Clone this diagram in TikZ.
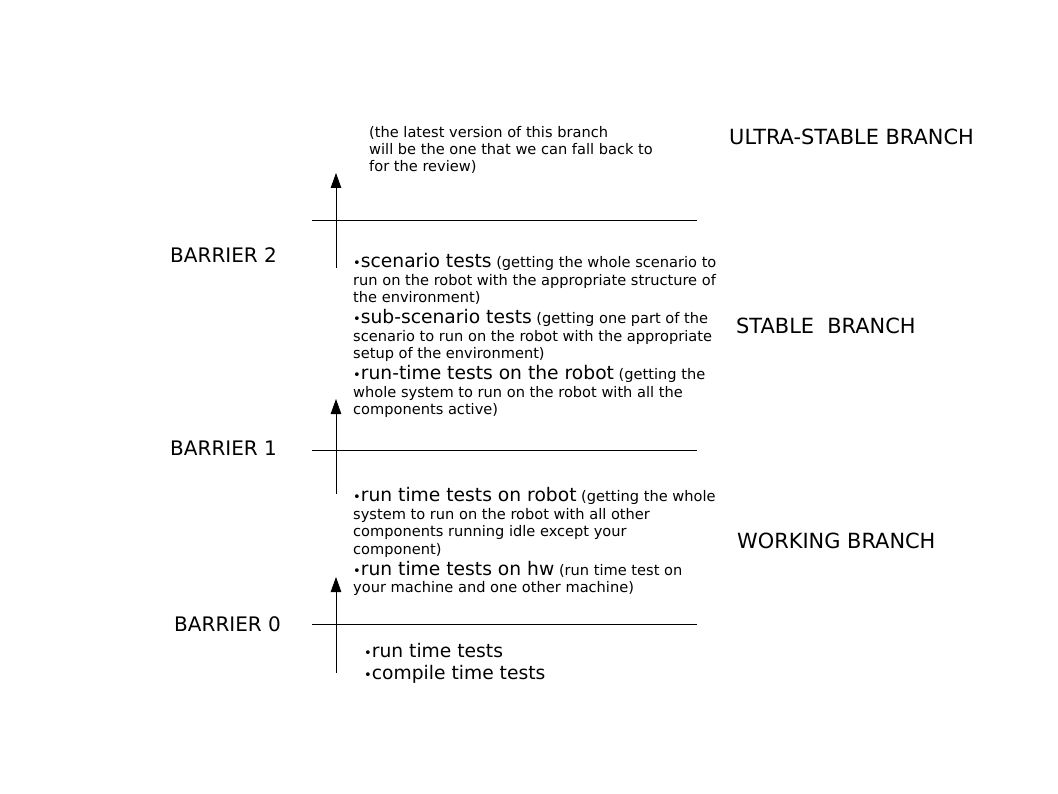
\documentclass[tikz,border=0pt]{standalone}
\usepackage{fontspec}
\setmainfont{DejaVu Sans}
\usetikzlibrary{arrows.meta, positioning}
\tikzset{
    lvl/.style={font=\fontsize{20}{24}\selectfont, anchor=west, inner sep=0pt},
    branch/.style={font=\fontsize{20.9}{24}\selectfont, anchor=west, inner sep=0pt},
    txt/.style={font=\fontsize{14.6}{17.5}\selectfont, align=left, anchor=north west, inner sep=0pt},
    barline/.style={line width=0.9pt},
    uparrow/.style={line width=0.9pt, -{Triangle[length=15pt, width=10.5pt]}},
}
\newcommand{\tbig}[1]{{\fontsize{18.7}{17.5}\selectfont #1}}
\newcommand{\bul}{{\fontsize{13}{17.5}\selectfont •}}

\begin{document}
\begin{tikzpicture}[x=1pt, y=-1pt]
    \useasboundingbox (0,0) rectangle (1058,794);

    % barrier lines
    \foreach \y/\n in {220/2, 450/1, 624/0} {
        \coordinate (bw\n) at (312,\y);
        \coordinate (be\n) at (697,\y);
        \draw[barline] (bw\n) -- (be\n);
    }

    % arrows going up through the barriers
    \coordinate (a2s) at (336,268);
    \coordinate (a2t) at (336,173);
    \coordinate (a1s) at (336,494);
    \coordinate (a1t) at (336,399);
    \coordinate (a0s) at (336,673);
    \coordinate (a0t) at (336,577);
    \draw[uparrow] (a2s) -- (a2t);
    \draw[uparrow] (a1s) -- (a1t);
    \draw[uparrow] (a0s) -- (a0t);

    % barrier labels
    \node[lvl] (b2lbl) at (170,255) {BARRIER 2};
    \node[lvl] (b1lbl) at (170,448) {BARRIER 1};
    \node[lvl] (b0lbl) at (174,624) {BARRIER 0};

    % branch labels
    \node[branch] (ultra) at (729,137) {ULTRA-STABLE BRANCH};
    \node[branch] (stable) at (736,326) {STABLE\ \ BRANCH};
    \node[branch] (working) at (737,541) {WORKING BRANCH};

    % texts
    \node[txt, font=\fontsize{14.6}{17}\selectfont] (note) at (369,126) {(the latest version of this branch\\
        will be the one that we can fall back to\\
        for the review)};

    \node[txt] (stabletxt) at (353,253.5) {\bul\tbig{scenario tests} (getting the whole scenario to\\
        run on the robot with the appropriate structure of\\
        the environment)\\[3.5pt]
        \bul\tbig{sub-scenario tests} (getting one part of the\\
        scenario to run on the robot with the appropriate\\
        setup of the environment)\\[3.5pt]
        \bul\tbig{run-time tests on the robot} (getting the\\
        whole system to run on the robot with all the\\
        components active)};

    \node[txt] (worktxt) at (353,487.5) {\bul\tbig{run time tests on robot} (getting the whole\\
        system to run on the robot with all other\\
        components running idle except your\\
        component)\\[3.5pt]
        \bul\tbig{run time tests on hw} (run time test on\\
        your machine and one other machine)};

    \node[txt] (basetxt) at (364,643.5) {\bul\tbig{run time tests}\\[4.5pt]
        \bul\tbig{compile time tests}};
\end{tikzpicture}
\end{document}
